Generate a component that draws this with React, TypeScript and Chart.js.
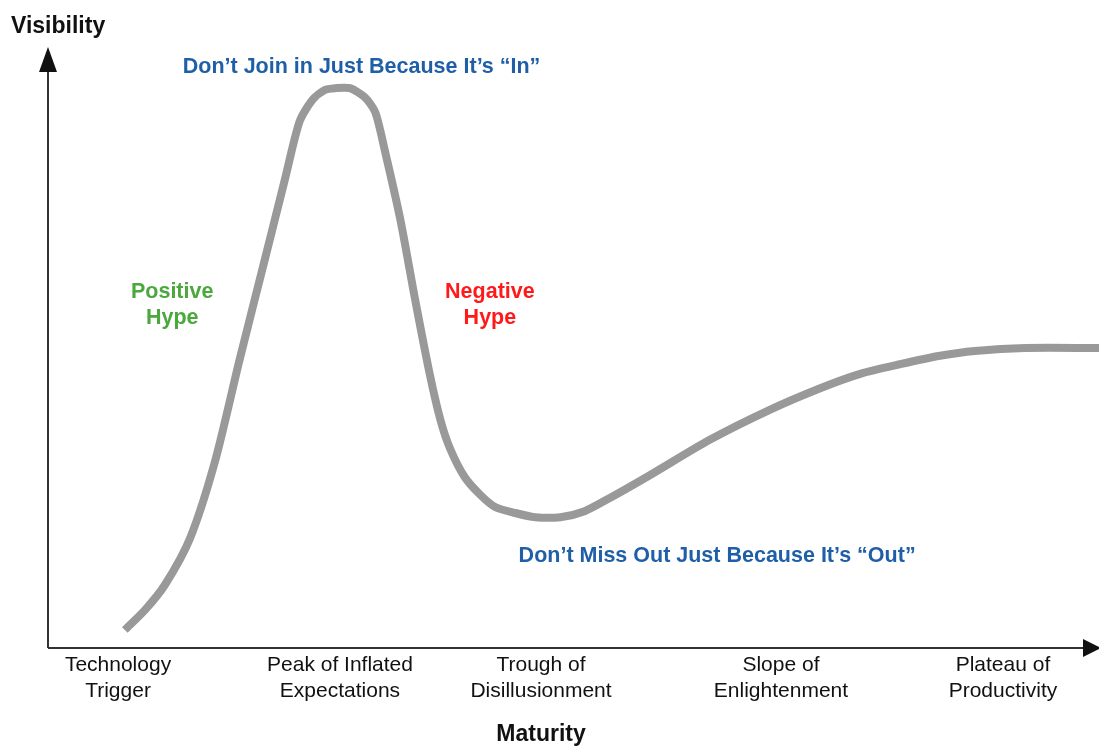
import React, { useEffect, useRef } from "react";
import { Chart, registerables } from "chart.js";

Chart.register(...registerables);

// Hype-cycle curve: maturity (0-100) vs. visibility (0-100)
const maturity = [
  7.4, 9.3, 11.2, 13.6, 16.0, 18.3, 20.7, 22.6, 24.0, 25.2, 26.4, 27.4, 28.8,
  30.2, 31.2, 32.1, 33.6, 35.0, 36.4, 37.4, 38.3, 39.7, 41.2, 42.6, 44.5, 46.4,
  48.8, 51.1, 53.5, 57.3, 63.0, 68.7, 73.5, 77.3, 81.1, 84.9, 88.2, 93.0, 100,
];
const visibility = [
  3.0, 6.3, 10.5, 18.3, 31.3, 48.0, 64.7, 78.0, 87.7, 91.3, 93.0, 93.3, 93.3,
  91.8, 89.3, 83.0, 71.3, 58.0, 45.5, 38.0, 33.3, 28.5, 25.5, 23.5, 22.5, 21.8,
  21.8, 22.8, 25.0, 28.8, 34.7, 39.7, 43.3, 45.7, 47.3, 48.7, 49.5, 50.0, 50.0,
];

// Phase labels along the maturity axis
const phaseTicks = [6.75, 27.85, 46.96, 69.77, 90.87];
const phaseLabels = [
  ["Technology", "Trigger"],
  ["Peak of Inflated", "Expectations"],
  ["Trough of", "Disillusionment"],
  ["Slope of", "Enlightenment"],
  ["Plateau of", "Productivity"],
];

// Callout texts placed in data coordinates
const noteLines = [
  ["Don\u2019t Join in Just Because It\u2019s \u201cIn\u201d"],
  ["Positive", "Hype"],
  ["Negative", "Hype"],
  ["Don\u2019t Miss Out Just Because It\u2019s \u201cOut\u201d"],
];
const noteX = [29.9, 11.9, 42.1, 63.7];
const noteY = [96.8, 57.2, 57.2, 15.3];
const noteColors = ["#1f5fa8", "#4aa83c", "#ff1a1a", "#1f5fa8"];

const FONT = "'Liberation Sans', Arial, Helvetica, sans-serif";

const axesPlugin = {
  id: "hypeAxes",
  afterDraw(chart: any) {
    const { ctx, chartArea } = chart;
    const xs = chart.scales.x;
    const ys = chart.scales.y;
    const left = chartArea.left + 1;
    const bottom = chartArea.bottom;
    ctx.save();

    // axis lines
    ctx.strokeStyle = "#333";
    ctx.fillStyle = "#111";
    ctx.lineWidth = 2;
    ctx.beginPath();
    ctx.moveTo(left, bottom);
    ctx.lineTo(left, chartArea.top + 20);
    ctx.moveTo(left, bottom);
    ctx.lineTo(chart.width - 14, bottom);
    ctx.stroke();

    // arrow heads
    ctx.beginPath();
    ctx.moveTo(left, chartArea.top - 1);
    ctx.lineTo(left - 9, chartArea.top + 24);
    ctx.lineTo(left + 9, chartArea.top + 24);
    ctx.closePath();
    ctx.fill();
    ctx.beginPath();
    ctx.moveTo(chart.width + 2, bottom);
    ctx.lineTo(chart.width - 16, bottom - 9);
    ctx.lineTo(chart.width - 16, bottom + 9);
    ctx.closePath();
    ctx.fill();

    // axis titles
    ctx.font = `bold 23px ${FONT}`;
    ctx.textBaseline = "middle";
    ctx.textAlign = "left";
    ctx.fillText("Visibility", 11, 27);
    ctx.textAlign = "center";
    ctx.fillText("Maturity", 541, 735);

    // callouts
    ctx.font = `bold 21.5px ${FONT}`;
    noteLines.forEach((lines, i) => {
      const cx = xs.getPixelForValue(noteX[i]);
      const cy = ys.getPixelForValue(noteY[i]);
      ctx.fillStyle = noteColors[i];
      const lh = 26;
      const y0 = cy - ((lines.length - 1) * lh) / 2;
      lines.forEach((t, j) => ctx.fillText(t, cx, y0 + j * lh));
    });
    ctx.restore();
  },
};

export default function App() {
  const ref = useRef<HTMLCanvasElement | null>(null);

  useEffect(() => {
    if (!ref.current) return;
    const chart = new Chart(ref.current, {
      type: "line",
      data: {
        datasets: [
          {
            data: maturity.map((m, i) => ({ x: m, y: visibility[i] })),
            borderColor: "#999999",
            borderWidth: 8,
            borderCapStyle: "butt",
            borderJoinStyle: "round",
            pointRadius: 0,
            tension: 0.25,
            fill: false,
          },
        ],
      },
      options: {
        responsive: false,
        animation: false,
        layout: { padding: { left: 47, top: 48, right: 0, bottom: 0 } },
        plugins: { legend: { display: false }, tooltip: { enabled: false } },
        scales: {
          x: {
            type: "linear",
            min: 0,
            max: 100,
            grid: { display: false, drawTicks: false },
            border: { display: false },
            afterBuildTicks: (scale: any) => {
              scale.ticks = phaseTicks.map((v) => ({ value: v }));
            },
            afterFit: (scale: any) => {
              scale.height = 99;
            },
            ticks: {
              autoSkip: false,
              maxRotation: 0,
              padding: 5,
              color: "#111",
              font: { family: FONT, size: 21, lineHeight: 1.2 },
              callback: (_v: any, i: number) => phaseLabels[i],
            },
          },
          y: { display: false, min: 0, max: 100 },
        },
      },
      plugins: [axesPlugin],
    });
    return () => chart.destroy();
  }, []);

  return (
    <div style={{ position: "fixed", left: 0, top: 0, width: 1099, height: 747, background: "#fff" }}>
      <canvas ref={ref} width={1099} height={747} />
    </div>
  );
}
